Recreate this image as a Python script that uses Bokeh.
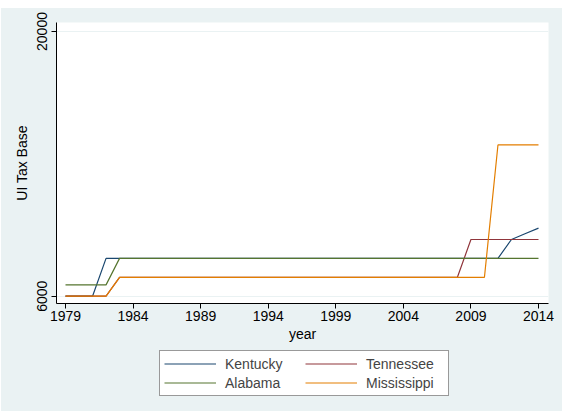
from bokeh.plotting import figure
from bokeh.models import Range1d, FixedTicker, Legend, LegendItem
from bokeh.layouts import column
from bokeh.embed import file_html
from bokeh.resources import INLINE

years = list(range(1979, 2015))
kentucky = [6000]*3 + [8000]*30 + [9000, 9300, 9600]
tennessee = [6000]*4 + [7000]*26 + [9000]*6
alabama = [6600]*4 + [8000]*32
mississippi = [6000]*4 + [7000]*28 + [14000]*4

series = [("Kentucky", kentucky, "#1a476f"),
          ("Tennessee", tennessee, "#90353b"),
          ("Alabama", alabama, "#55752f"),
          ("Mississippi", mississippi, "#e37e00")]
legend_order = ["Kentucky", "Alabama", "Tennessee", "Mississippi"]

x_ticks = [1979, 1984, 1989, 1994, 1999, 2004, 2009, 2014]
y_ticks = [6000, 20000]

BG = "#eaf2f3"
FONT = "Liberation Sans"

# main chart
p = figure(width=561, height=340, output_backend="svg", toolbar_location=None,
           x_range=Range1d(1978.334, 2014.74), y_range=Range1d(5614, 20476),
           min_border_left=55, min_border_right=14, min_border_top=14, min_border_bottom=45)
p.border_fill_color = BG
p.background_fill_color = "white"
p.outline_line_color = None

for name, vals, col in series:
    p.line(years, vals, line_color=col, line_width=1.2)

p.xgrid.grid_line_color = None
p.ygrid.grid_line_color = BG
p.ygrid.grid_line_width = 1.2

p.xaxis.ticker = FixedTicker(ticks=x_ticks)
p.yaxis.ticker = FixedTicker(ticks=y_ticks)
for ax in (p.xaxis[0], p.yaxis[0]):
    ax.axis_line_color = "black"
    ax.major_tick_line_color = "black"
    ax.major_tick_out = 5
    ax.major_tick_in = 0
    ax.minor_tick_line_color = None
    ax.major_label_text_font = FONT
    ax.major_label_text_font_size = "14px"
    ax.major_label_text_color = "black"
    ax.axis_label_text_font = FONT
    ax.axis_label_text_font_size = "14px"
    ax.axis_label_text_font_style = "normal"
    ax.axis_label_text_color = "black"

p.xaxis.axis_label = "year"
p.xaxis.major_label_standoff = 2
p.xaxis.axis_label_standoff = 2
p.yaxis.axis_label = "UI Tax Base"
p.yaxis.major_label_orientation = "vertical"
p.yaxis.major_label_standoff = 4
p.yaxis.axis_label_standoff = 5

# legend strip below the chart (series drawn outside its view; only the key shows)
q = figure(width=561, height=63, output_backend="svg", toolbar_location=None,
           x_range=Range1d(0, 1), y_range=Range1d(0, 1),
           x_axis_location=None, y_axis_location=None, min_border=0)
q.border_fill_color = BG
q.background_fill_color = BG
q.outline_line_color = None
q.grid.visible = False

rend = {}
for name, vals, col in series:
    rend[name] = q.line(years, vals, line_color=col, line_width=1.2)
items = [LegendItem(label=n, renderers=[rend[n]]) for n in legend_order]

legend = Legend(items=items, ncols=2, location=(103, 15),
                label_text_font=FONT, label_text_font_size="14px",
                glyph_width=52, glyph_height=17, label_height=17, label_width=78,
                label_standoff=9, spacing=2, padding=4, margin=0,
                border_line_color="#333333", border_line_width=1,
                background_fill_color="white", background_fill_alpha=1)
q.add_layout(legend, "center")

layout = column(p, q, spacing=0)
layout.styles = {"position": "absolute", "left": "1px", "top": "8px",
                 "background-color": BG}

open("out.html", "w").write(file_html(layout, INLINE))
